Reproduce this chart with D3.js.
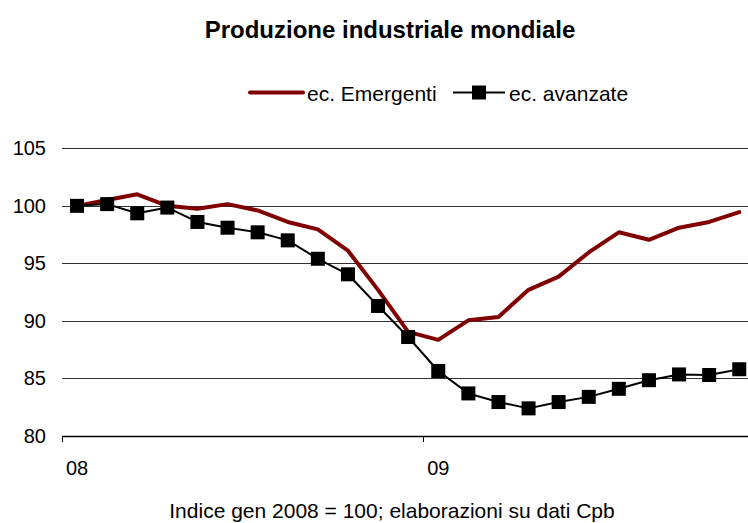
<!DOCTYPE html>
<html><head><meta charset="utf-8">
<script src="https://cdn.jsdelivr.net/npm/d3@7"></script>
<style>body{margin:0;background:#fff}svg{display:block;font-family:"Liberation Sans",Arial,sans-serif}</style>
</head><body><svg id="c" width="748" height="523"></svg>
<script>
const months = ["gen08","feb08","mar08","apr08","mag08","giu08","lug08","ago08","set08","ott08","nov08","dic08",
                "gen09","feb09","mar09","apr09","mag09","giu09","lug09","ago09","set09","ott09","nov09","dic09"];
const emergenti = [100.0,100.5,101.0,100.0,99.75,100.15,99.6,98.6,97.95,96.1,92.7,89.05,
                   88.35,90.05,90.35,92.7,93.85,95.95,97.7,97.05,98.1,98.6,99.45];
const avanzate = [100.0,100.15,99.35,99.85,98.6,98.1,97.7,97.0,95.4,94.05,91.3,88.6,
                  85.65,83.7,82.95,82.4,82.95,83.4,84.1,84.85,85.35,85.3,85.8];
const yTicks = [80,85,90,95,100,105];
const xLabels = [{m:"gen08",t:"08"},{m:"gen09",t:"09"}];
const seriesNames = ["ec. Emergenti","ec. avanzate"];
const title = "Produzione industriale mondiale";
const note = "Indice gen 2008 = 100; elaborazioni su dati Cpb";

(function(){
const svg = d3.select("#c");
const pl = 62, pr = 62 + 24*30.1, pt = 148.3, pb = 436;
const x = d3.scaleBand().domain(months).range([pl, pr]);
const y = d3.scaleLinear().domain([80,105]).range([pb, pt]);
const cx = i => x(months[i]) + x.bandwidth()/2;

svg.append("text").attr("x",390).attr("y",38).attr("text-anchor","middle")
  .attr("font-size",24).attr("font-weight","bold").text(title);

svg.append("g").selectAll("line").data(yTicks.filter(d=>d>80)).join("line")
  .attr("x1",pl).attr("x2",748).attr("y1",d=>Math.round(y(d))+0.5).attr("y2",d=>Math.round(y(d))+0.5)
  .attr("stroke","#333").attr("stroke-width",1);
svg.append("g").selectAll("text").data(yTicks).join("text")
  .attr("x",46).attr("y",d=>y(d)+7).attr("text-anchor","end").attr("font-size",20).text(d=>d);
svg.append("line").attr("x1",pl).attr("x2",748).attr("y1",pb+0.5).attr("y2",pb+0.5)
  .attr("stroke","#000").attr("stroke-width",1.3);
svg.append("g").selectAll("line").data(["gen08","gen09"]).join("line")
  .attr("x1",d=>Math.round(x(d))+0.5).attr("x2",d=>Math.round(x(d))+0.5)
  .attr("y1",pb).attr("y2",pb+6).attr("stroke","#000");
svg.append("g").selectAll("text").data(xLabels).join("text")
  .attr("x",d=>x(d.m)+x.bandwidth()/2).attr("y",475).attr("text-anchor","middle")
  .attr("font-size",20).text(d=>d.t);

const line = d3.line().x((d,i)=>cx(i)).y(d=>y(d));
svg.append("path").datum(emergenti).attr("d",line).attr("fill","none")
  .attr("stroke","#800000").attr("stroke-width",4).attr("stroke-linejoin","round").attr("stroke-linecap","round");
svg.append("path").datum(avanzate).attr("d",line).attr("fill","none")
  .attr("stroke","#000").attr("stroke-width",2).attr("stroke-linejoin","round");
const ms = 14;
svg.append("g").selectAll("rect").data(avanzate).join("rect")
  .attr("x",(d,i)=>cx(i)-ms/2).attr("y",d=>y(d)-ms/2).attr("width",ms).attr("height",ms).attr("fill","#000");

const ly = 92.5;
svg.append("line").attr("x1",250).attr("x2",303).attr("y1",ly).attr("y2",ly)
  .attr("stroke","#800000").attr("stroke-width",4).attr("stroke-linecap","round");
svg.append("text").attr("x",307).attr("y",101).attr("font-size",21).text(seriesNames[0]);
svg.append("line").attr("x1",453).attr("x2",505).attr("y1",ly).attr("y2",ly)
  .attr("stroke","#000").attr("stroke-width",2);
svg.append("rect").attr("x",472).attr("y",ly-7).attr("width",14).attr("height",14).attr("fill","#000");
svg.append("text").attr("x",509).attr("y",101).attr("font-size",21).text(seriesNames[1]);

svg.append("text").attr("x",392).attr("y",518).attr("text-anchor","middle")
  .attr("font-size",21).text(note);
})();
</script></body></html>
